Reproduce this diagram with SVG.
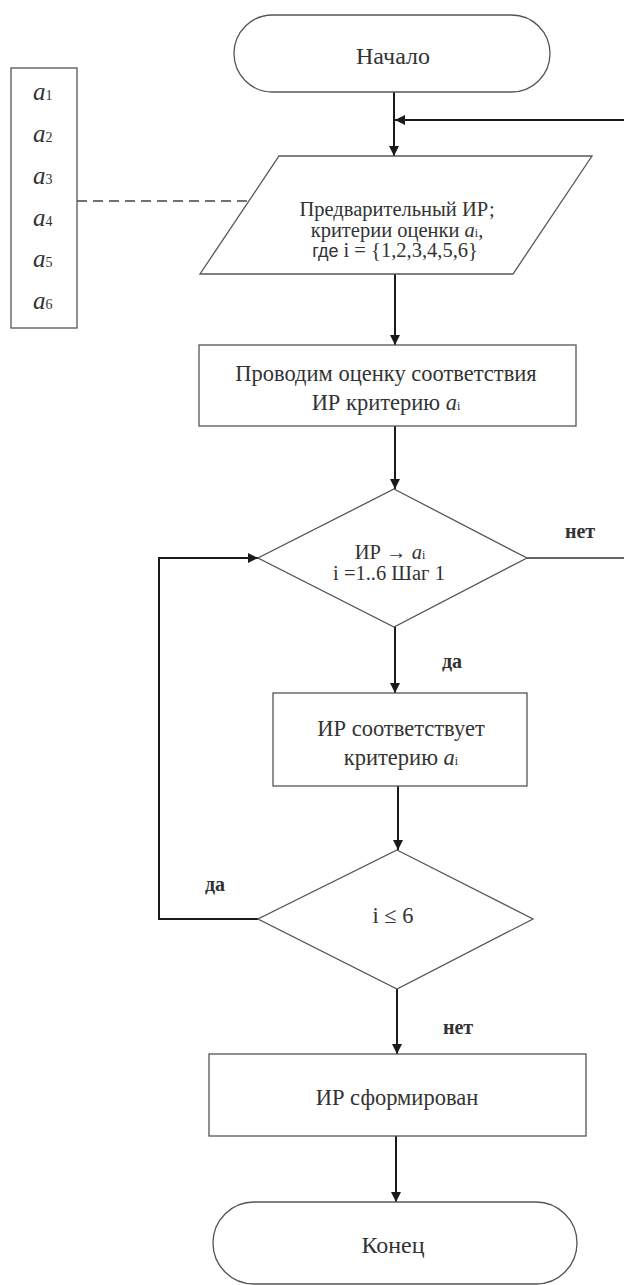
<svg xmlns="http://www.w3.org/2000/svg" width="624" height="1285" viewBox="0 0 624 1285">
<defs>
<marker id="arr" viewBox="0 0 10 10" refX="10" refY="5" markerWidth="10" markerHeight="10" markerUnits="userSpaceOnUse" orient="auto">
<path d="M0,0 L10,5 L0,10 Z" fill="#1a1a1a"/>
</marker>
<style>
.shape{fill:#fff;stroke:#555;stroke-width:1.3}
.conn{fill:none;stroke:#1a1a1a;stroke-width:2}
.dash{fill:none;stroke:#444;stroke-width:1.6;stroke-dasharray:10,6}
.t{font-family:"Liberation Serif","Times New Roman",serif;font-size:22.5px;fill:#333;text-anchor:middle}
.term{font-family:"Liberation Serif","Times New Roman",serif;font-size:24px;fill:#333;text-anchor:middle}
.s{font-family:"Liberation Serif","Times New Roman",serif;font-size:20.5px;fill:#333;text-anchor:middle}
.lbl{font-family:"Liberation Serif","Times New Roman",serif;font-size:20px;font-weight:bold;fill:#333;text-anchor:middle}
.it{font-style:italic}
.sub{font-size:12px;font-style:normal}
.sans{font-family:"Liberation Sans",Arial,sans-serif}
.a{font-family:"Liberation Serif","Times New Roman",serif;font-size:25px;fill:#333}
.asub{font-size:14px;font-style:normal}
</style>
</defs>
<rect width="624" height="1285" fill="#fff"/>

<g id="connectors">
<line class="conn" x1="394" y1="92" x2="394" y2="156" marker-end="url(#arr)"/>
<line class="conn" x1="624" y1="120" x2="395" y2="120" marker-end="url(#arr)"/>
<line class="conn" x1="395" y1="274" x2="395" y2="345" marker-end="url(#arr)"/>
<line class="conn" x1="395" y1="426" x2="395" y2="489" marker-end="url(#arr)"/>
<line class="conn" x1="527" y1="558" x2="624" y2="558" style="stroke-width:1.6;stroke:#333"/>
<line class="conn" x1="395" y1="627" x2="395" y2="693" marker-end="url(#arr)"/>
<line class="conn" x1="398" y1="786" x2="398" y2="850" marker-end="url(#arr)"/>
<polyline class="conn" points="258,919 159,919 159,558 258,558" marker-end="url(#arr)"/>
<line class="conn" x1="397" y1="989" x2="397" y2="1054" marker-end="url(#arr)"/>
<line class="conn" x1="396" y1="1136" x2="396" y2="1202" marker-end="url(#arr)"/>
<line class="dash" x1="77" y1="201" x2="249" y2="201"/>
<text class="lbl" x="580" y="538">нет</text>
<text class="lbl" x="452" y="668">да</text>
<text class="lbl" x="215" y="891">да</text>
<text class="lbl" x="458" y="1034">нет</text>
</g>

<g id="start">
<rect class="shape" x="234" y="15" width="316" height="77" rx="38.5"/>
<text class="term" x="393" y="64">Начало</text>
</g>

<g id="criteria-list">
<rect class="shape" x="11" y="68" width="66" height="260"/>
<text class="a" x="33" y="100"><tspan class="it">a</tspan><tspan class="asub">1</tspan></text>
<text class="a" x="33" y="142"><tspan class="it">a</tspan><tspan class="asub">2</tspan></text>
<text class="a" x="33" y="184"><tspan class="it">a</tspan><tspan class="asub">3</tspan></text>
<text class="a" x="33" y="226"><tspan class="it">a</tspan><tspan class="asub">4</tspan></text>
<text class="a" x="33" y="267"><tspan class="it">a</tspan><tspan class="asub">5</tspan></text>
<text class="a" x="33" y="309"><tspan class="it">a</tspan><tspan class="asub">6</tspan></text>
</g>

<g id="input">
<polygon class="shape" points="279,156 592,156 513,274 200,274"/>
<text class="s" x="397" y="216">Предварительный ИР;</text>
<text class="s" x="397" y="237">критерии оценки <tspan class="it">a</tspan><tspan class="sub">i</tspan>,</text>
<text class="s" x="395" y="257"><tspan class="sans" font-size="18">где</tspan> i = {1,2,3,4,5,6}</text>
</g>

<g id="evaluate">
<rect class="shape" x="199" y="345" width="377" height="81"/>
<text class="t" x="386" y="381">Проводим оценку соответствия</text>
<text class="t" x="386" y="410">ИР критерию <tspan class="it">a</tspan><tspan class="sub">i</tspan></text>
</g>

<g id="decision1">
<polygon class="shape" points="394,489 527,558 394,627 258,558"/>
<text class="s" x="390" y="559">ИР → <tspan class="it">a</tspan><tspan class="sub">i</tspan></text>
<text class="s" x="389" y="580">i =1..6 Шаг 1</text>
</g>

<g id="matches">
<rect class="shape" x="273" y="693" width="254" height="93"/>
<text class="t" x="401" y="736">ИР соответствует</text>
<text class="t" x="401" y="765">критерию <tspan class="it">a</tspan><tspan class="sub">i</tspan></text>
</g>

<g id="decision2">
<polygon class="shape" points="397,850 533,919 397,989 258,919"/>
<text class="t" x="393" y="923">i ≤ 6</text>
</g>

<g id="formed">
<rect class="shape" x="209" y="1054" width="377" height="82"/>
<text class="t" x="397" y="1105">ИР сформирован</text>
</g>

<g id="end">
<rect class="shape" x="213" y="1202" width="364" height="82" rx="41"/>
<text class="term" x="393" y="1253">Конец</text>
</g>
</svg>
